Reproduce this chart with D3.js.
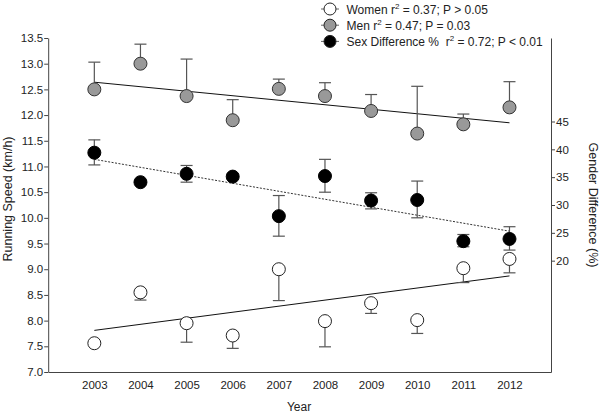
<!DOCTYPE html>
<html>
<head>
<meta charset="utf-8">
<script src="https://cdn.jsdelivr.net/npm/d3@7"></script>
<style>
    body { margin: 0; background: #fff; }
    text { font-family: "Liberation Sans", Arial, sans-serif; fill: #222; }
</style>
</head>
<body>
<div class="graphContainer"></div>
<script>
// Data
const years = [2003, 2004, 2005, 2006, 2007, 2008, 2009, 2010, 2011, 2012];

const menSpeed = [12.50, 13.00, 12.37, 11.90, 12.51, 12.37, 12.08, 11.64, 11.82, 12.15];
const menUpper = [13.03, 13.38, 13.09, 12.30, 12.70, 12.63, 12.40, 12.56, 12.02, 12.65];

const womenSpeed = [7.56, 8.55, 7.95, 7.71, 9.00, 7.99, 8.34, 8.01, 9.02, 9.20];
const womenLower = [7.56, 8.40, 7.58, 7.46, 8.39, 7.49, 8.14, 7.75, 8.74, 8.93];

const sexDiff = [39.4, 34.1, 35.6, 35.1, 28.0, 35.2, 30.8, 30.9, 23.5, 23.9];
const sexDiffLower = [37.2, 34.1, 34.1, 34.6, 24.4, 32.3, 29.3, 27.7, 22.5, 21.9];
const sexDiffUpper = [41.7, 34.1, 37.1, 35.6, 31.7, 38.2, 32.2, 34.3, 24.7, 26.1];

// Regression lines (start 2003, end 2012)
const menFit = [12.64, 11.85];
const womenFit = [7.81, 8.87];
const diffFit = [38.2, 25.3];

const leftTicks = [7.0, 7.5, 8.0, 8.5, 9.0, 9.5, 10.0, 10.5, 11.0, 11.5, 12.0, 12.5, 13.0, 13.5];
const rightTicks = [20, 25, 30, 35, 40, 45];

const legendItems = [
    { label: 'Women r', tail: ' = 0.37; P > 0.05', fill: '#fff' },
    { label: 'Men r', tail: ' = 0.47; P = 0.03', fill: '#999' },
    { label: 'Sex Difference %\u00a0 r', tail: ' = 0.72; P < 0.01', fill: '#000' }
];

const renderChart = () => {
    const W = 600, H = 413;
    const svg = d3.select('.graphContainer')
        .append('svg')
        .attr('width', W)
        .attr('height', H);

    // Scales
    const x = d3.scaleLinear().domain([2002, 2012.9]).range([48.2, 551]);
    const y = d3.scaleLinear().domain([7, 13.5]).range([372, 38]);
    const y2 = d3.scaleLinear().domain([0, 60]).range([372, 38]);

    const axisColor = '#444';

    // Left axis
    const gl = svg.append('g')
        .attr('transform', `translate(${x(2002)},0)`)
        .call(d3.axisLeft(y).tickValues(leftTicks).tickFormat(d3.format('.1f')).tickSize(4).tickSizeOuter(0));
    gl.select('.domain').attr('stroke', axisColor);
    gl.selectAll('.tick line').attr('stroke', axisColor);
    gl.selectAll('.tick text').attr('font-size', 11.5).attr('x', -5);

    // Right axis
    const gr = svg.append('g')
        .attr('transform', `translate(${x(2012.9)},0)`)
        .call(d3.axisRight(y2).tickValues(rightTicks).tickSize(4).tickSizeOuter(0));
    gr.select('.domain').attr('stroke', axisColor);
    gr.selectAll('.tick line').attr('stroke', axisColor);
    gr.selectAll('.tick text').attr('font-size', 11.5).attr('x', 5);

    // Bottom axis (no tick marks)
    const gb = svg.append('g')
        .attr('transform', `translate(0,${y(7)})`)
        .call(d3.axisBottom(x).tickValues(years).tickFormat(d3.format('d')).tickSize(0).tickSizeOuter(0));
    gb.select('.domain').attr('stroke', axisColor);
    gb.selectAll('.tick text').attr('font-size', 11.5).attr('dy', '1.25em');

    // Axis titles
    svg.append('text')
        .attr('transform', 'translate(12,199) rotate(-90)')
        .attr('text-anchor', 'middle')
        .attr('font-size', 12.5)
        .text('Running Speed (km/h)');

    svg.append('text')
        .attr('transform', 'translate(589,205) rotate(90)')
        .attr('text-anchor', 'middle')
        .attr('font-size', 12.5)
        .text('Gender Difference (%)');

    svg.append('text')
        .attr('x', 299)
        .attr('y', 411)
        .attr('text-anchor', 'middle')
        .attr('font-size', 12)
        .text('Year');

    // Regression lines
    const fitLine = (vals, scale, dash) => {
        svg.append('line')
            .attr('x1', x(years[0])).attr('y1', scale(vals[0]))
            .attr('x2', x(years[years.length - 1])).attr('y2', scale(vals[1]))
            .attr('stroke', dash ? '#333' : '#111')
            .attr('stroke-width', 1)
            .attr('stroke-dasharray', dash ? '2,1.5' : null);
    };
    fitLine(menFit, y, false);
    fitLine(womenFit, y, false);
    fitLine(diffFit, y2, true);

    // Error bars
    const errColor = '#555';
    const capW = 6;
    const errorBars = (vals, ends, scale) => {
        const g = svg.append('g').attr('stroke', errColor).attr('stroke-width', 1.2);
        years.forEach((yr, i) => {
            if (Math.abs(scale(vals[i]) - scale(ends[i])) < 1) return;
            g.append('line')
                .attr('x1', x(yr)).attr('x2', x(yr))
                .attr('y1', scale(vals[i])).attr('y2', scale(ends[i]));
            g.append('line')
                .attr('x1', x(yr) - capW).attr('x2', x(yr) + capW)
                .attr('y1', scale(ends[i])).attr('y2', scale(ends[i]));
        });
    };
    errorBars(menSpeed, menUpper, y);
    errorBars(womenSpeed, womenLower, y);
    errorBars(sexDiff, sexDiffUpper, y2);
    errorBars(sexDiff, sexDiffLower, y2);

    // Points
    const r = 6.5;
    const dots = (vals, scale, fill, stroke) => {
        svg.append('g').selectAll('circle')
            .data(vals)
            .enter()
            .append('circle')
            .attr('cx', (d, i) => x(years[i]))
            .attr('cy', d => scale(d))
            .attr('r', r)
            .attr('fill', fill)
            .attr('stroke', stroke)
            .attr('stroke-width', 1);
    };
    dots(menSpeed, y, '#999', '#333');
    dots(womenSpeed, y, '#fff', '#222');
    dots(sexDiff, y2, '#000', '#000');

    // Legend
    const legend = svg.append('g').attr('transform', 'translate(330,9)');
    legendItems.forEach((item, i) => {
        const g = legend.append('g').attr('transform', `translate(0,${i * 16.2})`);
        g.append('line')
            .attr('x1', -9).attr('x2', 9)
            .attr('stroke', '#666').attr('stroke-width', 1);
        g.append('circle')
            .attr('r', 6)
            .attr('fill', item.fill)
            .attr('stroke', '#222');
        const t = g.append('text')
            .attr('x', 16.5)
            .attr('y', 4.5)
            .attr('font-size', 12);
        t.append('tspan').text(item.label);
        t.append('tspan').attr('dy', -5).attr('font-size', 8).text('2');
        t.append('tspan').attr('dy', 5).text(item.tail);
    });
};

renderChart();
</script>
</body>
</html>
